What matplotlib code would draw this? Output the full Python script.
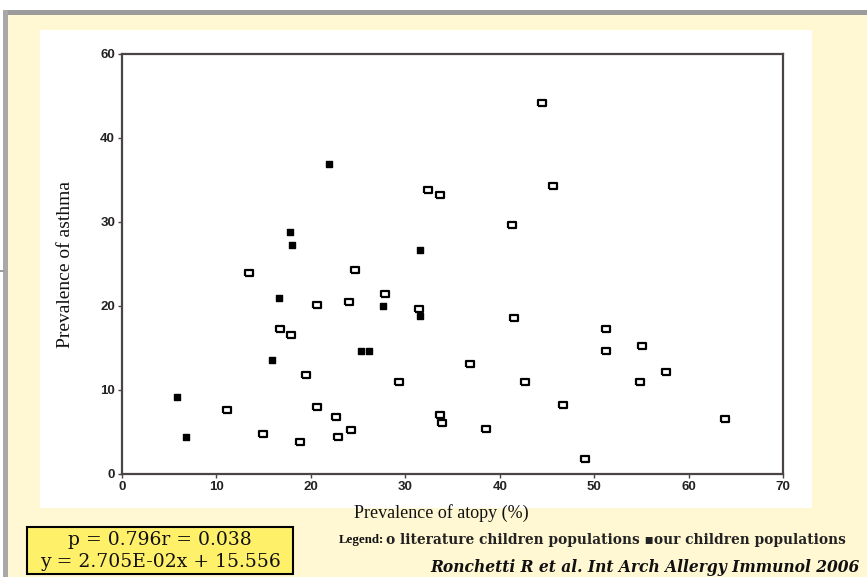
import matplotlib
matplotlib.use("Agg")
import matplotlib.pyplot as plt
from matplotlib.patches import Rectangle

# prevalence of atopy (%) / prevalence of asthma (%)
lit_atopy = [13.45, 24.7, 27.8, 24.0, 20.7, 31.4, 16.7, 17.9, 19.5, 29.3,
             11.1, 20.7, 22.7, 24.2, 14.9, 22.9, 18.8, 33.7, 33.9, 32.4,
             33.7, 44.5, 45.6, 41.3, 41.5, 51.3, 51.3, 55.1, 36.9, 57.6,
             42.7, 54.9, 46.75, 38.6, 49.0, 63.9]
lit_asthma = [23.9, 24.3, 21.4, 20.5, 20.1, 19.7, 17.3, 16.6, 11.8, 11.0,
              7.6, 8.0, 6.75, 5.2, 4.76, 4.4, 3.85, 7.0, 6.1, 33.8,
              33.25, 44.2, 34.3, 29.6, 18.6, 17.3, 14.6, 15.2, 13.1, 12.1,
              10.95, 11.0, 8.2, 5.35, 1.8, 6.5]

our_atopy = [5.8, 6.8, 15.9, 16.6, 17.8, 18.0, 21.9, 25.3, 26.2, 27.6, 31.6, 31.6]
our_asthma = [9.2, 4.45, 13.6, 20.95, 28.8, 27.3, 36.9, 14.7, 14.7, 20.0, 26.7, 18.8]

xticks = [0, 10, 20, 30, 40, 50, 60, 70]
yticks = [0, 10, 20, 30, 40, 50]
ytick_labels = ['0', '10', '20', '30', '40', '60']

W, H = 867, 577


def fx(px):
    return px / W


def fy(py):
    return 1 - py / H


def add_rect(x0, y0, x1, y1, **kw):
    # pixel box (top-left / bottom-right) -> figure patch
    fig.patches.append(Rectangle((fx(x0), fy(y1)), fx(x1) - fx(x0), fy(y0) - fy(y1),
                                 transform=fig.transFigure, **kw))


fig = plt.figure(figsize=(W / 100, H / 100), dpi=100)
fig.patch.set_facecolor('white')

# cream page, grey border lines, white panel
add_rect(3, 10, W, H, facecolor='#fff8d2', edgecolor='none', zorder=0)
add_rect(3, 10, W, 15, facecolor='#9c9c9c', edgecolor='none', zorder=1)
add_rect(3, 10, 8, H, facecolor='#a8a8a8', edgecolor='none', zorder=1)
add_rect(0, 270, 4, 271.5, facecolor='#9c9c9c', edgecolor='none', zorder=1)
add_rect(40, 30, 812, 508, facecolor='white', edgecolor='none', zorder=1)

ax = fig.add_axes([fx(122), fy(474), fx(783) - fx(122), fy(54) - fy(474)])
ax.set_zorder(5)
ax.set_facecolor('white')

rect = [(-1.3, -1), (1.3, -1), (1.3, 1), (-1.3, 1), (-1.3, -1)]
ax.scatter(lit_atopy, lit_asthma, marker=rect, s=34, facecolors='white',
           edgecolors='black', linewidths=1.6, zorder=3, clip_on=False)
ax.scatter(our_atopy, our_asthma, marker='s', s=14, color='black', zorder=3)

ax.set_xlim(0, 70)
ax.set_ylim(0, 50)
ax.set_xticks(xticks)
ax.set_yticks(yticks)
ax.set_yticklabels(ytick_labels)
for s in ax.spines.values():
    s.set_color('#4a4444')
    s.set_linewidth(1.6)
ax.tick_params(direction='out', length=3, width=1, color='#4a4444',
               labelsize=9.5, labelcolor='#222222', pad=2)
for lab in ax.get_xticklabels() + ax.get_yticklabels():
    lab.set_fontfamily('Liberation Sans')
    lab.set_fontweight('bold')

fig.text(fx(66), fy(265), 'Prevalence of asthma', rotation=90, ha='center', va='center',
         family='Liberation Serif', fontsize=14, color='#111111')
fig.text(fx(441), fy(513), 'Prevalence of atopy (%)', ha='center', va='center',
         family='Liberation Serif', fontsize=13, color='#111111')

# yellow stats box
add_rect(27, 527, 293, 574, facecolor='#fff06a', edgecolor='black', linewidth=1.5, zorder=2)
fig.text(fx(160), fy(540), 'p = 0.796r = 0.038', ha='center', va='center',
         family='DejaVu Serif', fontsize=13.5, color='#111111', zorder=3)
fig.text(fx(160), fy(562), 'y = 2.705E-02x + 15.556', ha='center', va='center',
         family='DejaVu Serif', fontsize=13.5, color='#111111', zorder=3)

fig.text(fx(339), fy(540), 'Legend:', ha='left', va='center', family='Liberation Serif',
         fontsize=9.3, fontweight='bold', color='#111111')
fig.text(fx(386), fy(540), 'o literature children populations \u25aaour children populations',
         ha='left', va='center', family='DejaVu Serif', fontsize=9.9,
         fontweight='bold', color='#222222')
fig.text(fx(860), fy(568), 'Ronchetti R et al. Int Arch Allergy Immunol 2006', ha='right',
         va='center', family='DejaVu Serif', fontsize=11.2, fontweight='bold',
         style='italic', color='#111111')

fig.savefig('out.png', dpi=100, facecolor=fig.get_facecolor())
